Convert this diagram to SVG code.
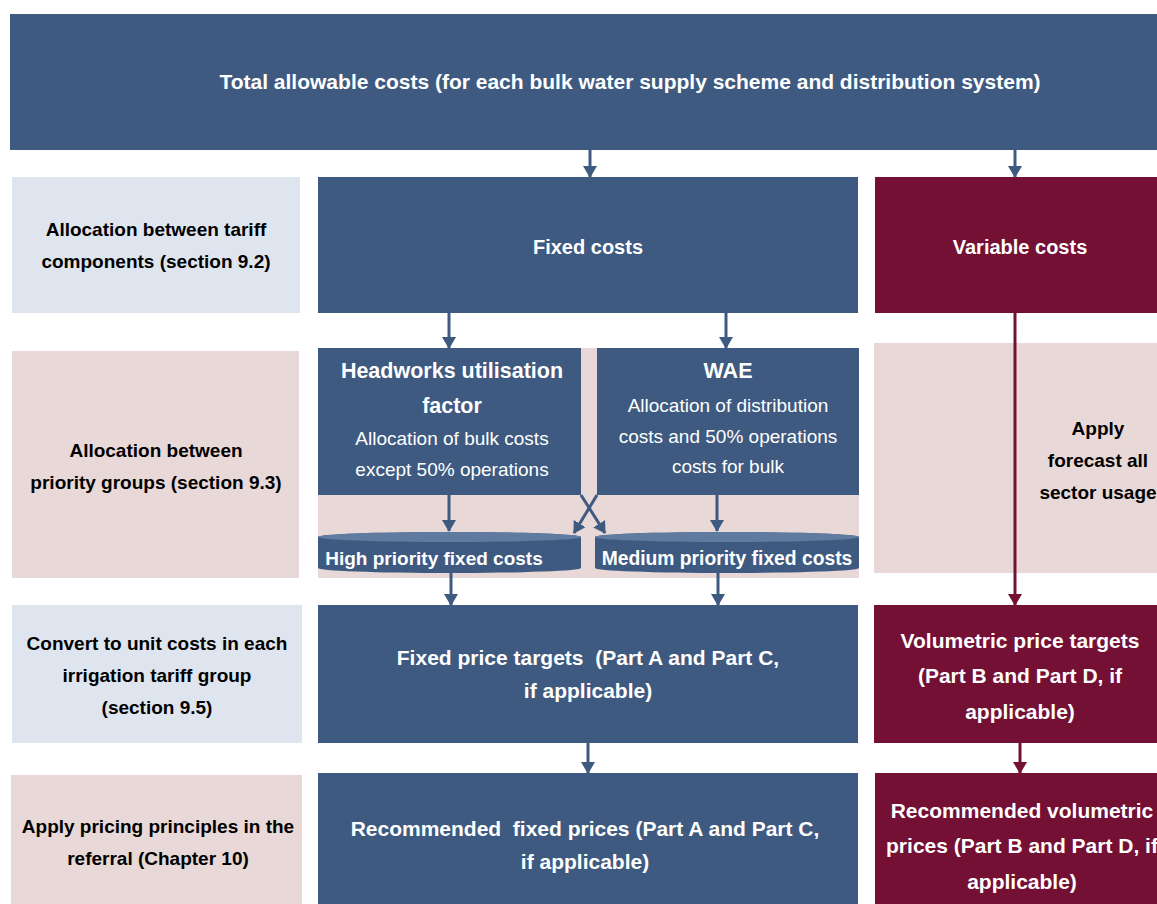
<svg xmlns="http://www.w3.org/2000/svg" width="1157" height="904" viewBox="0 0 1157 904">
<style>
.blue{fill:#3E5A80}
.mar{fill:#731034}
.lblue{fill:#DFE5EE}
.pink{fill:#E8D8D7}
text{font-family:"Liberation Sans",Arial,sans-serif;text-anchor:middle;white-space:pre}
.w{fill:#fff;font-weight:bold;font-size:21px}
.wr{fill:#fff;font-size:19px}
.k{fill:#000;font-weight:bold;font-size:19px}
.bc{stroke:#3E5A80;stroke-width:3;fill:none}
.mc{stroke:#731034;stroke-width:3;fill:none}
</style>
<defs>
<marker id="ab" markerUnits="userSpaceOnUse" markerWidth="12" markerHeight="14" refX="11" refY="7" orient="auto" viewBox="0 0 12 14">
<path d="M0,0 L12,7 L0,14 Z" fill="#3E5A80"/>
</marker>
<marker id="am" markerUnits="userSpaceOnUse" markerWidth="12" markerHeight="14" refX="11" refY="7" orient="auto" viewBox="0 0 12 14">
<path d="M0,0 L12,7 L0,14 Z" fill="#731034"/>
</marker>
</defs>

<rect class="pink" x="318" y="348" width="541" height="230"/>

<g id="total"><rect class="blue" x="10" y="14" width="1147" height="136"/>
<text class="w" x="630" y="89">Total allowable costs (for each bulk water supply scheme and distribution system)</text></g>

<g id="label1"><rect class="lblue" x="12" y="177" width="288" height="136"/>
<text class="k" x="156" y="236">Allocation between tariff</text>
<text class="k" x="156" y="268">components (section 9.2)</text></g>

<g id="fixed"><rect class="blue" x="318" y="177" width="540" height="136"/>
<text class="w" x="588" y="254" style="font-size:20px">Fixed costs</text></g>

<g id="variable"><rect class="mar" x="875" y="177" width="282" height="136"/>
<text class="w" x="1020" y="254" style="font-size:20px">Variable costs</text></g>

<g id="label2"><rect class="pink" x="12" y="351" width="287" height="227"/>
<text class="k" x="156" y="457">Allocation between</text>
<text class="k" x="156" y="489">priority groups (section 9.3)</text></g>

<g id="headworks"><rect class="blue" x="318" y="348" width="263" height="147"/>
<text class="w" x="452" y="378" style="font-size:21.5px">Headworks utilisation</text>
<text class="w" x="452" y="413" style="font-size:21.5px">factor</text>
<text class="wr" x="452" y="445">Allocation of bulk costs</text>
<text class="wr" x="452" y="476">except 50% operations</text></g>

<g id="wae"><rect class="blue" x="597" y="348" width="262" height="147"/>
<text class="w" x="728" y="378" style="font-size:21.5px">WAE</text>
<text class="wr" x="728" y="412">Allocation of distribution</text>
<text class="wr" x="728" y="443">costs and 50% operations</text>
<text class="wr" x="728" y="473">costs for bulk</text></g>

<g id="high"><path class="blue" d="M318,537 A131.5,5 0 0 1 581,537 L581,568 A131.5,5 0 0 1 318,568 Z"/>
<ellipse cx="449.5" cy="537" rx="131.5" ry="5" fill="#5F7B9F"/>
<text class="w" x="434" y="565" style="font-size:19px">High priority fixed costs</text></g>

<g id="medium"><path class="blue" d="M595,537 A132,5 0 0 1 859,537 L859,568 A132,5 0 0 1 595,568 Z"/>
<ellipse cx="727" cy="537" rx="132" ry="5" fill="#5F7B9F"/>
<text class="w" x="727" y="565" style="font-size:19.3px">Medium priority fixed costs</text></g>

<g id="forecast"><rect class="pink" x="874" y="343" width="283" height="230"/>
<text class="k" x="1098" y="435">Apply</text>
<text class="k" x="1098" y="467">forecast all</text>
<text class="k" x="1098" y="499">sector usage</text></g>

<g id="label3"><rect class="lblue" x="12" y="605" width="290" height="138"/>
<text class="k" x="157" y="650">Convert to unit costs in each</text>
<text class="k" x="157" y="682">irrigation tariff group</text>
<text class="k" x="157" y="714">(section 9.5)</text></g>

<g id="fixedtargets"><rect class="blue" x="318" y="605" width="540" height="138"/>
<text class="w" x="588" y="665">Fixed price targets  (Part A and Part C,</text>
<text class="w" x="588" y="698">if applicable)</text></g>

<g id="voltargets"><rect class="mar" x="874" y="605" width="283" height="138"/>
<text class="w" x="1020" y="648">Volumetric price targets</text>
<text class="w" x="1020" y="683">(Part B and Part D, if</text>
<text class="w" x="1020" y="719">applicable)</text></g>

<g id="label4"><rect class="pink" x="11" y="775" width="291" height="129"/>
<text class="k" x="158" y="833">Apply pricing principles in the</text>
<text class="k" x="158" y="865">referral (Chapter 10)</text></g>

<g id="recfixed"><rect class="blue" x="318" y="773" width="540" height="131"/>
<text class="w" x="585" y="836">Recommended  fixed prices (Part A and Part C,</text>
<text class="w" x="585" y="869">if applicable)</text></g>

<g id="recvol"><rect class="mar" x="875" y="773" width="282" height="131"/>
<text class="w" x="1022" y="818">Recommended volumetric</text>
<text class="w" x="1022" y="853">prices (Part B and Part D, if</text>
<text class="w" x="1022" y="889">applicable)</text></g>

<g id="connectors">
<line class="bc" x1="590" y1="150" x2="590" y2="177" marker-end="url(#ab)"/>
<line class="bc" x1="1015" y1="150" x2="1015" y2="177" marker-end="url(#ab)"/>
<line class="bc" x1="449" y1="313" x2="449" y2="348" marker-end="url(#ab)"/>
<line class="bc" x1="726" y1="313" x2="726" y2="348" marker-end="url(#ab)"/>
<line class="bc" x1="449" y1="495" x2="449" y2="531" marker-end="url(#ab)"/>
<line class="bc" x1="717" y1="495" x2="717" y2="531" marker-end="url(#ab)"/>
<line class="bc" x1="597" y1="495" x2="574" y2="533" marker-end="url(#ab)"/>
<line class="bc" x1="581" y1="495" x2="605" y2="533" marker-end="url(#ab)"/>
<line class="bc" x1="451" y1="573" x2="451" y2="605" marker-end="url(#ab)"/>
<line class="bc" x1="718" y1="573" x2="718" y2="605" marker-end="url(#ab)"/>
<line class="mc" x1="1015" y1="313" x2="1015" y2="605" marker-end="url(#am)"/>
<line class="bc" x1="588" y1="743" x2="588" y2="773" marker-end="url(#ab)"/>
<line class="mc" x1="1020" y1="743" x2="1020" y2="773" marker-end="url(#am)"/>
</g>
</svg>
